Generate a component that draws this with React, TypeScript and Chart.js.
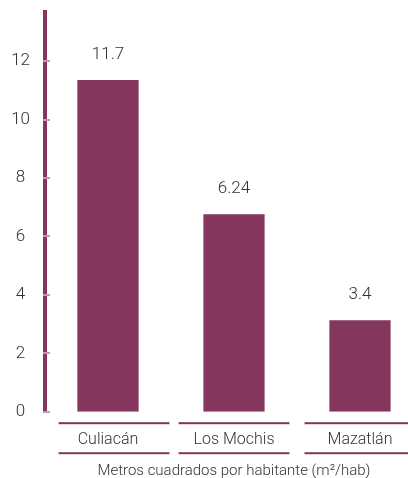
import React, { useEffect, useRef } from "react";
import { Chart, registerables } from "chart.js";

Chart.register(...registerables);

const categories = ["Culiacán", "Los Mochis", "Mazatlán"];
const barValues = [11.35, 6.76, 3.13];
const valueLabels = ["11.7", "6.24", "3.4"];
const yTicks = [0, 2, 4, 6, 8, 10, 12];
const axisTitle = "Metros cuadrados por habitante (m²/hab)";

const PURPLE = "rgb(132,54,94)";
const TICK_PINK = "rgb(196,150,174)";
const TEXT = "#333333";
const FONT = "'Roboto', sans-serif";

const decorPlugin = {
  id: "decor",
  afterDraw(chart: any) {
    const { ctx, chartArea, scales } = chart;
    const x = scales.x;
    const y = scales.y;
    ctx.save();
    ctx.strokeStyle = TICK_PINK;
    ctx.lineWidth = 2;
    yTicks.forEach((v) => {
      const py = Math.round(y.getPixelForValue(v));
      ctx.beginPath();
      ctx.moveTo(chartArea.left - 2, py);
      ctx.lineTo(chartArea.left + 5, py);
      ctx.stroke();
    });
    const catW = (chartArea.right - chartArea.left) / categories.length;
    const segW = catW * 0.88;
    ctx.fillStyle = PURPLE;
    categories.forEach((_, i) => {
      const cx = x.getPixelForValue(i) + (i === 0 ? 6 : 0);
      const x0 = cx - segW / 2;
      ctx.fillRect(x0, chartArea.bottom + 10.5, segW, 2);
      ctx.fillRect(x0, chartArea.bottom + 40.5, segW, 2);
    });
    ctx.fillStyle = TEXT;
    ctx.font = `300 17px ${FONT}`;
    ctx.textAlign = "center";
    ctx.textBaseline = "middle";
    const meta = chart.getDatasetMeta(0);
    meta.data.forEach((bar: any, i: number) => {
      ctx.fillText(valueLabels[i], bar.x, bar.y - 25);
    });
    ctx.restore();
  },
};

export default function App() {
  const ref = useRef<HTMLCanvasElement | null>(null);
  useEffect(() => {
    document.body.style.margin = "0";
    const chart = new Chart(ref.current!, {
      type: "bar",
      data: {
        labels: categories,
        datasets: [
          {
            data: barValues,
            backgroundColor: PURPLE,
            borderWidth: 0,
            categoryPercentage: 1,
            barPercentage: 0.486,
          },
        ],
      },
      options: {
        animation: false,
        responsive: false,
        maintainAspectRatio: false,
        layout: { padding: { top: 12, right: 0, left: 0, bottom: 0 } },
        plugins: { legend: { display: false }, tooltip: { enabled: false } },
        scales: {
          x: {
            grid: { display: false, drawTicks: false },
            border: { display: false },
            ticks: {
              color: TEXT,
              font: { family: FONT, size: 16, weight: "300" },
              padding: 19,
              maxRotation: 0,
            },
            title: {
              display: true,
              text: axisTitle,
              color: TEXT,
              font: { family: FONT, size: 15, weight: "300", lineHeight: 1 },
              padding: { top: 0, bottom: -1 },
            },
            afterFit: (s: any) => {
              s.height = 66.3;
              s.paddingLeft = 0;
              s.paddingRight = 0;
            },
          },
          y: {
            min: 0,
            max: 13.68,
            grid: { display: false, drawTicks: false },
            border: { display: true, color: PURPLE, width: 4 },
            afterBuildTicks: (s: any) => {
              s.ticks = yTicks.map((v) => ({ value: v }));
            },
            ticks: {
              color: TEXT,
              font: { family: FONT, size: 17, weight: "300" },
              padding: 15,
              crossAlign: "center",
            },
            afterFit: (s: any) => {
              s.width = 45;
              s.paddingTop = 0;
              s.paddingBottom = 0;
            },
          },
        },
      },
      plugins: [decorPlugin],
    });
    return () => chart.destroy();
  }, []);
  return (
    <div style={{ width: 408, height: 478, overflow: "hidden" }}>
      <canvas ref={ref} width={423} height={478} style={{ display: "block" }} />
    </div>
  );
}
